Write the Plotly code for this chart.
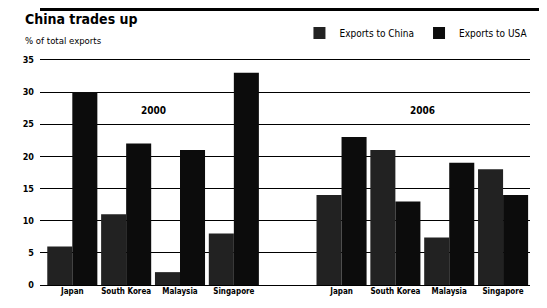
import plotly.graph_objects as go

countries = ["Japan", "South Korea", "Malaysia", "Singapore"]
years = ["2000", "2006"]
china_2000 = [6, 11, 2, 8]
usa_2000 = [30, 22, 21, 33]
china_2006 = [14, 21, 7.4, 18]
usa_2006 = [23, 13, 19, 14]
y_ticks = [0, 5, 10, 15, 20, 25, 30, 35]

FONT = "Liberation Sans Narrow, DejaVu Sans Condensed, Arial Narrow, sans-serif"

# positions: 2000 group in slots 0-3, empty slot 4, 2006 group in slots 5-8
pos_2000 = list(range(len(countries)))
pos_2006 = [p + len(countries) + 1 for p in pos_2000]
xs = pos_2000 + pos_2006

china_col = "#222222"
usa_col = "#0c0c0c"

fig = go.Figure()
fig.add_trace(go.Bar(x=xs, y=china_2000 + china_2006, name="Exports to China",
                     marker=dict(color=china_col, line=dict(width=0))))
fig.add_trace(go.Bar(x=xs, y=usa_2000 + usa_2006, name="Exports to USA",
                     marker=dict(color=usa_col, line=dict(width=0))))

# page body has an 8px margin, so the figure is sized to fill the rest of the window
fig.update_layout(
    width=539, height=300,
    margin=dict(l=32, r=17, t=50, b=23, autoexpand=False),
    paper_bgcolor="white", plot_bgcolor="white",
    barmode="group", bargap=0.07, bargroupgap=0,
    font=dict(family=FONT, color="black"),
    showlegend=True,
    legend=dict(orientation="h", x=1.005, xanchor="right", y=1.11, yanchor="middle",
                font=dict(size=10, family=FONT), itemwidth=30,
                traceorder="normal", bgcolor="rgba(0,0,0,0)"),
)

fig.update_xaxes(range=[-0.6, 8.5], tickvals=xs, ticktext=countries + countries,
                 tickfont=dict(size=8, family=FONT, weight="bold"),
                 showgrid=False, zeroline=False, showline=False, ticks="")
fig.update_yaxes(range=[0, 35.3], tickvals=y_ticks, ticktext=[str(v) for v in y_ticks],
                 tickfont=dict(size=9, family=FONT, weight="bold"),
                 showgrid=True, gridcolor="black", gridwidth=1.3,
                 zeroline=True, zerolinecolor="black", zerolinewidth=1.3,
                 showline=False, ticks="", ticklabelstandoff=5)

# year labels centred above each group
for yr, grp in zip(years, [pos_2000, pos_2006]):
    fig.add_annotation(x=sum(grp) / len(grp), y=27.2, text=yr, showarrow=False,
                       font=dict(size=10, family=FONT, weight="bold"))

fig.add_annotation(xref="paper", yref="paper", x=-0.035, y=1.172, xanchor="left",
                   yanchor="middle", text="<b>China trades up</b>", showarrow=False,
                   font=dict(size=14, family=FONT))
fig.add_annotation(xref="paper", yref="paper", x=-0.035, y=1.079, xanchor="left",
                   yanchor="middle", text="% of total exports", showarrow=False,
                   font=dict(size=9.5, family=FONT))

# top rule
fig.add_shape(type="line", xref="paper", yref="paper", x0=0.0, x1=1.04, y0=1.214, y1=1.214,
              line=dict(color="black", width=3))

fig.write_html("out.html")
